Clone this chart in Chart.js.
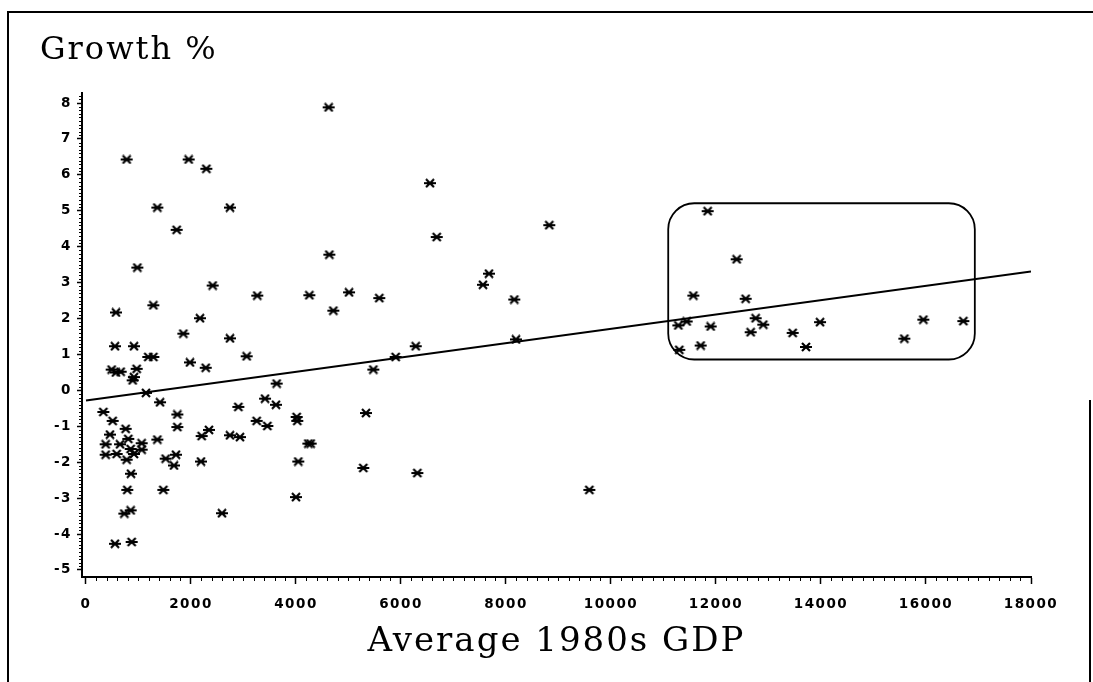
<!DOCTYPE html>
<html>
<head>
<meta charset="utf-8">
<script src="https://cdn.jsdelivr.net/npm/chart.js@4"></script>
<style>
  body { margin: 0; background: #fff; }
  canvas { display: block; }
</style>
</head>
<body>
<canvas id="myChart" width="1093" height="682"></canvas>
<script>
// average 1980s GDP (x) and growth % (y), one entry per country
const gdp = [
  4622, 775, 1956, 2292, 1359, 2743, 1727, 4635, 978, 2413,
  3263, 4254, 5010, 1283, 571, 2171, 4711, 1854, 2743, 552,
  914, 1187, 1283, 3060, 1981, 2280, 489, 570, 660, 965,
  914, 889, 3632, 1143, 1410, 3410, 3619, 330, 508, 2902,
  1740, 3251, 3454, 4013, 4025, 1740, 756, 2343, 457, 2203,
  2743, 2933, 806, 1359, 375, 648, 1060, 4235, 4279, 851,
  1060, 375, 584, 914, 1714, 775, 1518, 2190, 4044, 1676,
  857, 1473, 787, 4000, 730, 851, 2590, 552, 870, 6552,
  6680, 8825, 7676, 7562, 5587, 8158, 8190, 5473, 5898, 6280,
  5333, 5282, 6311, 9587, 11841, 12394, 11568, 12565, 11441, 11283,
  11898, 12756, 12901, 12660, 13460, 13981, 13714, 11301, 11708, 15587,
  15949, 16711
];
const growth = [
  7.88, 6.43, 6.43, 6.17, 5.09, 5.09, 4.47, 3.78, 3.42, 2.92,
  2.64, 2.65, 2.73, 2.37, 2.17, 2.01, 2.22, 1.58, 1.45, 1.23,
  1.23, 0.93, 0.93, 0.95, 0.78, 0.63, 0.58, 0.50, 0.52, 0.60,
  0.37, 0.28, 0.19, -0.07, -0.33, -0.23, -0.40, -0.60, -0.85, -0.46,
  -0.67, -0.85, -0.99, -0.74, -0.85, -1.02, -1.07, -1.10, -1.23, -1.27,
  -1.25, -1.30, -1.35, -1.37, -1.50, -1.50, -1.47, -1.48, -1.48, -1.63,
  -1.65, -1.79, -1.77, -1.77, -1.79, -1.93, -1.90, -1.98, -1.98, -2.09,
  -2.32, -2.77, -2.77, -2.97, -3.43, -3.34, -3.42, -4.27, -4.22, 5.77,
  4.27, 4.60, 3.25, 2.94, 2.57, 2.53, 1.42, 0.58, 0.93, 1.23,
  -0.63, -2.16, -2.30, -2.77, 4.99, 3.65, 2.64, 2.55, 1.92, 1.81,
  1.78, 2.01, 1.83, 1.62, 1.60, 1.90, 1.21, 1.13, 1.25, 1.44,
  1.97, 1.93
];

// fitted regression line end points
const fitX = [0, 18000];
const fitY = [-0.28, 3.31];

// highlighted group of rich countries
const boxX = [11090, 16930];
const boxY = [0.86, 5.21];

const xTicks = [0, 2000, 4000, 6000, 8000, 10000, 12000, 14000, 16000, 18000];
const yTicks = [-5, -4, -3, -2, -1, 0, 1, 2, 3, 4, 5, 6, 7, 8];

// asterisk marker like the old plotter output
function makeStar() {
    const c = document.createElement('canvas');
    c.width = 14; c.height = 10;
    const g = c.getContext('2d');
    g.strokeStyle = '#000';
    g.lineWidth = 2.2;
    g.beginPath();
    g.moveTo(1, 5); g.lineTo(13, 5);
    g.moveTo(3, 1); g.lineTo(11, 9);
    g.moveTo(3, 9); g.lineTo(11, 1);
    g.stroke();
    return c;
}

const points = gdp.map((v, i) => ({x: v, y: growth[i]}));
const fitLine = fitX.map((v, i) => ({x: v, y: fitY[i]}));

// typewriter-like spacing: titles first, then tick labels (drawn after datasets, z=1)
const spacing = {
    id: 'spacing',
    beforeDraw(chart) { chart.ctx.letterSpacing = '2px'; },
    beforeDatasetsDraw(chart) { chart.ctx.letterSpacing = '1.5px'; },
    afterDraw(chart) { chart.ctx.letterSpacing = '0px'; },
};

// minor ticks, rounded box and the page frame
const extras = {
    id: 'extras',
    afterDraw(chart) {
        const {ctx, scales: {x, y}} = chart;
        const bottom = y.getPixelForValue(y.min);
        const left = x.getPixelForValue(x.min);
        ctx.save();
        ctx.strokeStyle = '#000';
        ctx.lineWidth = 1;
        ctx.beginPath();
        for (let v = 0; v <= 18000; v += 200) {
            if (v % 2000 === 0) continue;
            const px = Math.round(x.getPixelForValue(v)) + 0.5;
            ctx.moveTo(px, bottom);
            ctx.lineTo(px, bottom + 4);
        }
        for (let k = -50; k <= 82; k++) {
            if (k % 10 === 0) continue;
            const py = Math.round(y.getPixelForValue(k / 10)) + 0.5;
            ctx.moveTo(left, py);
            ctx.lineTo(left - 3, py);
        }
        ctx.stroke();

        // rounded rectangle round the high income group
        const bx0 = x.getPixelForValue(boxX[0]);
        const bx1 = x.getPixelForValue(boxX[1]);
        const by0 = y.getPixelForValue(boxY[1]);
        const by1 = y.getPixelForValue(boxY[0]);
        ctx.lineWidth = 1.8;
        ctx.beginPath();
        ctx.roundRect(bx0, by0, bx1 - bx0, by1 - by0, 26);
        ctx.stroke();

        // frame
        ctx.lineWidth = 2;
        ctx.beginPath();
        ctx.moveTo(8, 682); ctx.lineTo(8, 12); ctx.lineTo(1093, 12);
        ctx.moveTo(1090, 400); ctx.lineTo(1090, 682);
        ctx.stroke();
        ctx.restore();
    }
};

const tickFont = {family: 'DejaVu Sans', weight: 'bold', size: 13.5};

const config = {
    type: 'scatter',
    data: {
        datasets: [
            {
                data: points,
                pointStyle: makeStar(),
                pointRadius: 6,
                borderColor: '#000',
                backgroundColor: '#000',
            },
            {
                type: 'line',
                data: fitLine,
                borderColor: '#000',
                borderWidth: 2,
                pointRadius: 0,
                fill: false,
            },
        ],
    },
    options: {
        responsive: false,
        animation: false,
        devicePixelRatio: 1,
        layout: {padding: {left: 40, top: 35, right: 62, bottom: 0}},
        plugins: {
            legend: {display: false},
            tooltip: {enabled: false},
            title: {
                display: true,
                text: 'Growth %',
                align: 'start',
                color: '#000',
                font: {family: 'DejaVu Serif', size: 32, weight: 'normal', lineHeight: 1},
                padding: {top: 0, bottom: 26},
            },
        },
        scales: {
            x: {
                type: 'linear',
                min: -76,
                max: 18000,
                afterBuildTicks: (scale) => { scale.ticks = xTicks.map(v => ({value: v})); },
                afterFit: (scale) => { scale.height = 105; },
                grid: {drawOnChartArea: false, drawTicks: true, tickLength: 7, tickWidth: 1.5, tickColor: '#000'},
                border: {display: true, color: '#000', width: 2},
                ticks: {
                    color: '#000', font: tickFont, padding: 12, maxRotation: 0, autoSkip: false, z: 1,
                    callback: (value) => String(value),
                },
                title: {
                    display: true,
                    text: 'Average 1980s GDP',
                    color: '#000',
                    font: {family: 'DejaVu Serif', size: 34, weight: 'normal', lineHeight: 1},
                    padding: {top: 0, bottom: 23},
                },
            },
            y: {
                type: 'linear',
                min: -5.195,
                max: 8.28,
                afterBuildTicks: (scale) => { scale.ticks = yTicks.map(v => ({value: v})); },
                afterFit: (scale) => { scale.width = 42; },
                grid: {drawOnChartArea: false, drawTicks: true, tickLength: 5, tickWidth: 1.5, tickColor: '#000'},
                border: {display: true, color: '#000', width: 2},
                ticks: {color: '#000', font: tickFont, padding: 5, autoSkip: false, z: 1},
            },
        },
    },
    plugins: [spacing, extras],
};

const myChart = new Chart(document.getElementById('myChart').getContext('2d'), config);
</script>
</body>
</html>
